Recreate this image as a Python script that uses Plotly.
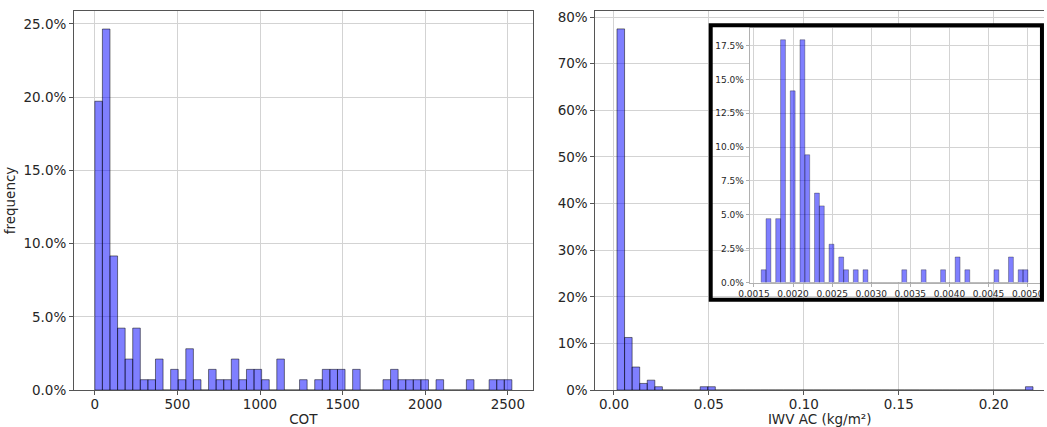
import plotly.graph_objects as go

# ---- data: histogram counts (55 bins each) ----
cot_bin_start = 0.0
cot_bin_width = 45.9
cot_counts = [28, 35, 13, 6, 3, 6, 1, 1, 3, 0,
              2, 1, 4, 1, 0, 2, 1, 1, 3, 1,
              2, 2, 1, 0, 3, 0, 0, 1, 0, 1,
              2, 2, 2, 0, 2, 0, 0, 0, 1, 2,
              1, 1, 1, 1, 0, 1, 0, 0, 0, 1,
              0, 0, 1, 1, 1]

iwv_bin_start = 0.00159
iwv_bin_width = 0.003984
iwv_counts = [110, 16, 7, 2, 3, 1, 0, 0, 0, 0,
              0, 1, 1, 0, 0, 0, 0, 0, 0, 0,
              0, 0, 0, 0, 0, 0, 0, 0, 0, 0,
              0, 0, 0, 0, 0, 0, 0, 0, 0, 0,
              0, 0, 0, 0, 0, 0, 0, 0, 0, 0,
              0, 0, 0, 0, 1]

# zoom on the first IWV bin
inset_bin_start = 0.001593
inset_bin_width = 0.0000620
inset_counts = [1, 5, 0, 5, 19, 0, 15, 0, 19, 10,
                0, 7, 6, 0, 3, 0, 2, 1, 0, 1,
                0, 1, 0, 0, 0, 0, 0, 0, 0, 1,
                0, 0, 0, 1, 0, 0, 0, 1, 0, 0,
                2, 0, 1, 0, 0, 0, 0, 0, 1, 0,
                0, 2, 0, 1, 1]


def hist_bar(start, width, counts, xa, ya, lw=1.0):
    total = sum(counts)
    centers = [start + width * (i + 0.5) for i in range(len(counts))]
    pct = [c / total * 100 for c in counts]
    return go.Bar(x=centers, y=pct, width=width, xaxis=xa, yaxis=ya,
                  marker=dict(color="rgba(0,0,255,0.5)",
                              line=dict(color="rgba(0,0,0,0.5)", width=lw)),
                  showlegend=False)


fig = go.Figure()
fig.add_trace(hist_bar(cot_bin_start, cot_bin_width, cot_counts, "x", "y"))
fig.add_trace(hist_bar(iwv_bin_start, iwv_bin_width, iwv_counts, "x2", "y2"))
fig.add_trace(hist_bar(inset_bin_start, inset_bin_width, inset_counts, "x3", "y3", lw=0.6))

font = dict(family="DejaVu Sans", size=13.5, color="#262626")
small = dict(family="DejaVu Sans", size=9, color="#262626")
grid = "#d3d3d3"
ax = dict(showgrid=True, gridcolor=grid, gridwidth=1, zeroline=False,
          showline=True, linecolor="#555", linewidth=1,
          ticks="outside", ticklen=4, tickcolor="#555", tickfont=font)

fig.update_layout(
    width=1047, height=427,
    margin=dict(l=74, r=0, t=11, b=35),
    paper_bgcolor="white", plot_bgcolor="white",
    font=font,
    xaxis=dict(ax, domain=[0, 0.4728], range=[-126, 2650], dtick=500, mirror=True,
               ticklabelstandoff=-2,
               title=dict(text="COT", standoff=5, font=font)),
    yaxis=dict(ax, range=[0, 25.88], dtick=5, tickformat=".1f", ticksuffix="%", mirror=True,
               title=dict(text="frequency", standoff=4, font=font)),
    xaxis2=dict(ax, domain=[0.5375, 1], anchor="y2", range=[-0.0098, 0.2265], dtick=0.05,
                tickformat=".2f", mirror=True, ticklabelstandoff=-2,
                title=dict(text="IWV AC (kg/m²)", standoff=5, font=font)),
    yaxis2=dict(ax, anchor="x2", range=[0, 81.3], dtick=10, ticksuffix="%"),
    xaxis3=dict(ax, domain=[0.6965, 0.9969], anchor="y3", range=[0.001445, 0.00517],
                tick0=0.0015, dtick=0.0005, tickformat=".4f", mirror=True,
                linecolor="#b0b0b0", tickcolor="#b0b0b0", ticklen=3, tickfont=small),
    yaxis3=dict(ax, domain=[0.2835, 0.9554], anchor="x3", range=[0, 18.8], dtick=2.5,
                tickformat=".1f", ticksuffix="%", mirror=True,
                linecolor="#b0b0b0", tickcolor="#b0b0b0", ticklen=3, tickfont=small),
    shapes=[dict(type="rect", xref="paper", yref="paper",
                 x0=0.6564, x1=0.9979, y0=0.2381, y1=0.9625,
                 line=dict(color="black", width=4))],
)

# the page's default body margin would push the figure 8px off the window
fig.write_html("out.html", config={"displayModeBar": False},
               post_script="document.body.style.margin='0';document.body.style.overflow='hidden';")
